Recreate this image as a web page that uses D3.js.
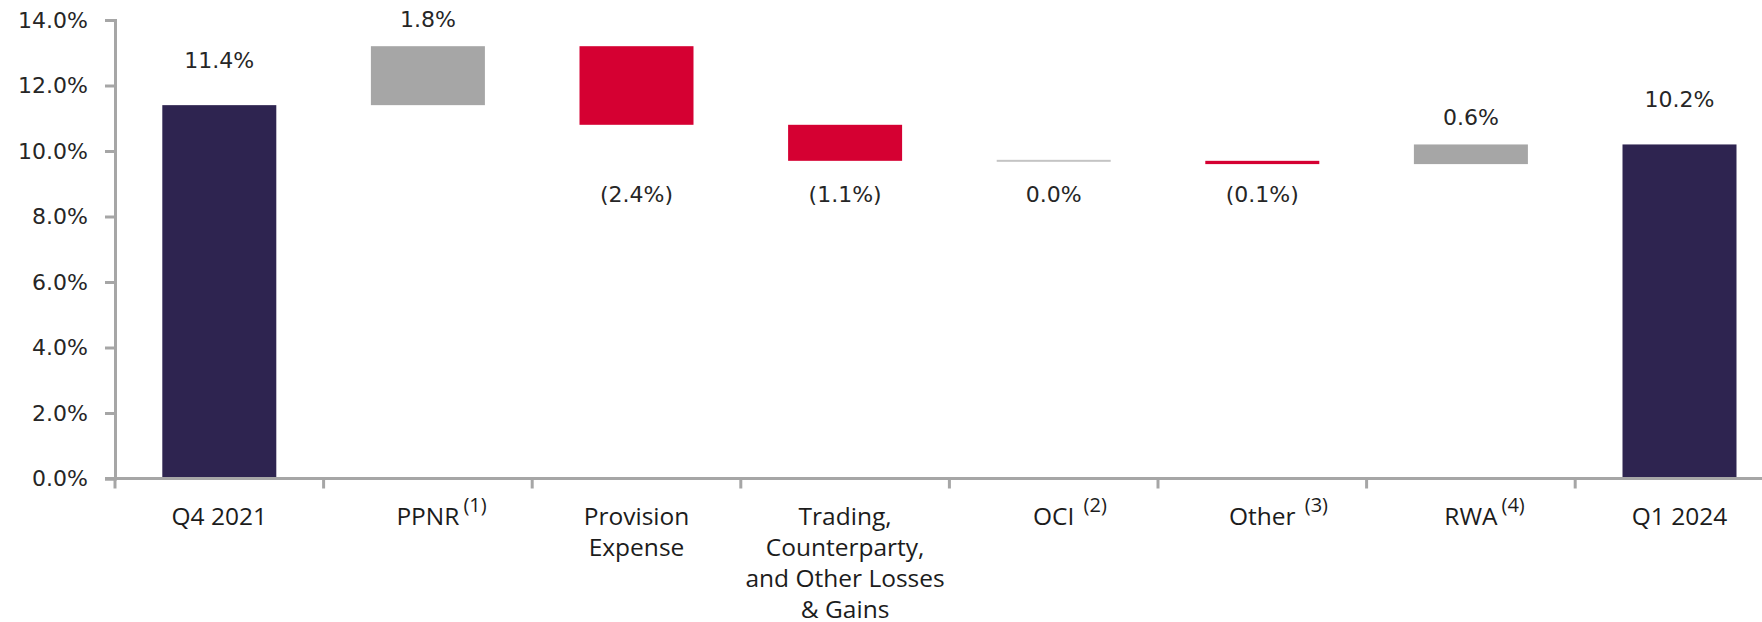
<!DOCTYPE html>
<html>

<head>
    <meta charset="utf-8">
    <title>Capital Ratio Walk</title>
    <script src="https://d3js.org/d3.v7.min.js"></script>
    <style>
        body { margin: 0; background: #fff; }
        svg { display: block; overflow: hidden; }
        text { white-space: pre; }
    </style>
</head>

<body>
    <div id="chart"></div>
    <script>
        // chart data
        var categoryLines = [
            ["Q4 2021"],
            ["PPNR"],
            ["Provision", "Expense"],
            ["Trading,", "Counterparty,", "and Other Losses", "& Gains"],
            ["OCI"],
            ["Other"],
            ["RWA"],
            ["Q1 2024"]
        ];
        var categoryNotes = ["", "(1)", "", "", " (2)", " (3)", "(4)", ""];
        var barKinds = ["total", "delta", "delta", "delta", "delta", "delta", "delta", "total"];
        var barValues = [11.4, 1.8, -2.4, -1.1, 0.0, -0.1, 0.6, 10.2];
        var valueLabels = ["11.4%", "1.8%", "(2.4%)", "(1.1%)", "0.0%", "(0.1%)", "0.6%", "10.2%"];
        var yTicks = [0, 2, 4, 6, 8, 10, 12, 14];

        // svg dimensions
        var W = 1762, H = 622;
        var margin = { top: 20, left: 115, bottom: 143.5 };
        var step = 208.6;

        var svg = d3.select("#chart").append("svg")
            .attr("width", W)
            .attr("height", H);

        // running levels for the waterfall
        var level = 0;
        var bars = barValues.map(function (v, i) {
            var start, end;
            if (barKinds[i] === "total") { start = 0; end = v; }
            else { start = level; end = level + v; }
            level = end;
            return { i: i, kind: barKinds[i], v: v, start: start, end: end };
        });

        var x = d3.scaleBand()
            .domain(d3.range(categoryLines.length))
            .range([margin.left, margin.left + step * categoryLines.length])
            .paddingInner(0.4535)
            .paddingOuter(0.4535 / 2);

        var y = d3.scaleLinear()
            .domain([0, 14])
            .range([H - margin.bottom, margin.top]);

        function barColor(d) {
            if (d.kind === "total") return "#2e2450";
            if (d.v > 0) return "#a6a6a6";
            if (d.v < 0) return "#d50032";
            return "#c4c4c4";
        }

        // bars
        svg.selectAll(".bar")
            .data(bars)
            .enter().append("rect")
            .attr("class", "bar")
            .attr("x", function (d) { return x(d.i); })
            .attr("width", x.bandwidth())
            .attr("y", function (d) {
                var top = y(Math.max(d.start, d.end));
                var h = Math.abs(y(d.start) - y(d.end));
                return h < 2 ? top - (2 - h) / 2 : top;
            })
            .attr("height", function (d) {
                return Math.max(2, Math.abs(y(d.start) - y(d.end)));
            })
            .attr("fill", barColor);

        // y axis
        var yAxis = svg.append("g")
            .attr("transform", "translate(" + margin.left + ",0)")
            .call(d3.axisLeft(y)
                .tickValues(yTicks)
                .tickSize(10)
                .tickPadding(17)
                .tickFormat(function (d) { return d.toFixed(1) + "%"; }));
        yAxis.select(".domain").attr("stroke", "#a6a6a6").attr("stroke-width", 3);
        yAxis.selectAll(".tick line").attr("stroke", "#a6a6a6").attr("stroke-width", 3);
        yAxis.selectAll(".tick text")
            .attr("fill", "#262626")
            .style("font-family", "'DejaVu Sans', sans-serif")
            .style("font-size", "22px");

        // x axis: baseline plus ticks on band boundaries
        var x0 = y(0);
        svg.append("line")
            .attr("x1", margin.left - 10)
            .attr("x2", W)
            .attr("y1", x0)
            .attr("y2", x0)
            .attr("stroke", "#a6a6a6")
            .attr("stroke-width", 3);
        svg.selectAll(".xtick")
            .data(d3.range(categoryLines.length + 1))
            .enter().append("line")
            .attr("class", "xtick")
            .attr("x1", function (d) { return x.range()[0] + d * x.step(); })
            .attr("x2", function (d) { return x.range()[0] + d * x.step(); })
            .attr("y1", x0)
            .attr("y2", x0 + 10)
            .attr("stroke", "#a6a6a6")
            .attr("stroke-width", 3);

        // category labels with footnote superscripts
        categoryLines.forEach(function (lines, i) {
            var cx = x(i) + x.bandwidth() / 2;
            var t = svg.append("text")
                .attr("x", cx)
                .attr("y", x0 + 46)
                .attr("text-anchor", "middle")
                .attr("fill", "#1c1c1c")
                .style("font-family", "'Open Sans', sans-serif")
                .style("font-size", "24.5px");
            t.selectAll("tspan")
                .data(lines)
                .enter().append("tspan")
                .attr("x", cx)
                .attr("dy", function (d, k) { return k === 0 ? 0 : 31; })
                .text(function (d) { return d; });
            if (categoryNotes[i]) {
                var first = t.select("tspan").node().getComputedTextLength();
                svg.append("text")
                    .attr("x", cx + first / 2 + 4)
                    .attr("y", x0 + 33)
                    .attr("fill", "#1c1c1c")
                    .style("font-family", "'Open Sans', sans-serif")
                    .style("font-size", "20px")
                    .text(categoryNotes[i]);
            }
        });

        // value labels
        var lowLevel = d3.min(bars.filter(function (d) { return d.kind === "delta" && d.v <= 0; }),
            function (d) { return Math.min(d.start, d.end); });
        svg.selectAll(".vlabel")
            .data(bars)
            .enter().append("text")
            .attr("class", "vlabel")
            .attr("x", function (d) { return x(d.i) + x.bandwidth() / 2; })
            .attr("y", function (d) {
                if (d.kind === "total") return y(d.end) - 45;
                if (d.v > 0) return y(d.end) - 27;
                return y(lowLevel) + 30;
            })
            .attr("dy", "0.35em")
            .attr("text-anchor", "middle")
            .attr("fill", "#262626")
            .style("font-family", "'DejaVu Sans', sans-serif")
            .style("font-size", "22px")
            .text(function (d, i) { return valueLabels[i]; });
    </script>
</body>

</html>
